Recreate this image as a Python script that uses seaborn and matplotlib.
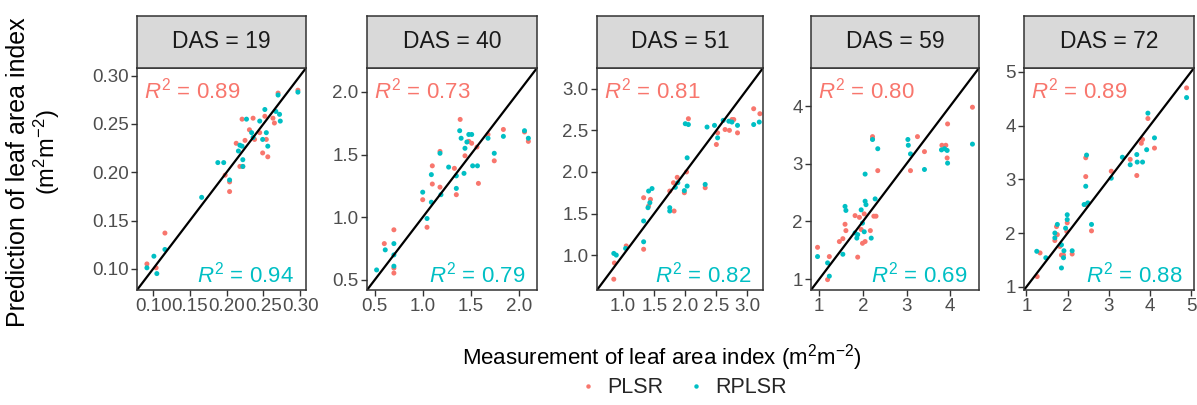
import numpy as np
import pandas as pd
import matplotlib
matplotlib.use("Agg")
import matplotlib.pyplot as plt
import seaborn as sns
from matplotlib.lines import Line2D

# ---- data ----
das = [19, 40, 51, 59, 72]
methods = ["PLSR", "RPLSR"]
r2_plsr = ["0.89", "0.73", "0.81", "0.80", "0.89"]
r2_rplsr = ["0.94", "0.79", "0.82", "0.69", "0.88"]

meas_19_plsr = [0.0915, 0.104, 0.116, 0.198, 0.204, 0.204, 0.218, 0.225, 0.221, 0.231, 0.236, 0.238,
                0.245, 0.252, 0.254, 0.249, 0.256, 0.263, 0.265, 0.270, 0.297, 0.213, 0.222]
pred_19_plsr = [0.105, 0.101, 0.137, 0.197, 0.190, 0.180, 0.206, 0.233, 0.255, 0.244, 0.256, 0.234,
                0.241, 0.258, 0.234, 0.220, 0.216, 0.256, 0.251, 0.282, 0.285, 0.230, 0.206]
meas_19_rplsr = [0.0915, 0.101, 0.105, 0.116, 0.166, 0.188, 0.196, 0.204, 0.216, 0.218, 0.221, 0.222, 0.222,
                 0.227, 0.234, 0.236, 0.245, 0.252, 0.254, 0.256, 0.249, 0.267, 0.270, 0.272, 0.273, 0.297]
pred_19_rplsr = [0.101, 0.113, 0.095, 0.120, 0.174, 0.210, 0.210, 0.192, 0.222, 0.228, 0.227, 0.213, 0.206,
                 0.255, 0.241, 0.236, 0.253, 0.265, 0.241, 0.227, 0.234, 0.263, 0.280, 0.260, 0.253, 0.283]

meas_40_plsr = [0.60, 0.70, 0.70, 0.70, 1.00, 1.045, 1.10, 1.10, 1.18, 1.18, 1.33, 1.35, 1.39, 1.44,
                1.48, 1.51, 1.565, 1.58, 1.68, 1.745, 1.84, 2.06, 2.10]
pred_40_plsr = [0.79, 0.90, 0.595, 0.555, 1.14, 0.92, 1.41, 1.265, 1.24, 1.525, 1.39, 1.18, 1.78, 1.49,
                1.605, 1.59, 1.56, 1.27, 1.66, 1.45, 1.70, 1.68, 1.605]
meas_40_rplsr = [0.52, 0.61, 0.70, 0.70, 0.70, 1.00, 1.045, 1.09, 1.09, 1.18, 1.19, 1.27, 1.35, 1.35,
                 1.385, 1.40, 1.44, 1.46, 1.48, 1.51, 1.43, 1.52, 1.57, 1.68, 1.745, 1.84, 2.06, 2.10]
pred_40_rplsr = [0.58, 0.74, 0.79, 0.70, 0.61, 1.20, 0.99, 1.34, 1.12, 1.51, 1.18, 1.40, 1.23, 1.33,
                 1.69, 1.63, 1.55, 1.60, 1.66, 1.66, 1.35, 1.41, 1.41, 1.63, 1.51, 1.645, 1.69, 1.63]

meas_51_plsr = [0.85, 0.86, 1.05, 1.33, 1.33, 1.44, 1.41, 1.75, 1.82, 1.87, 1.985, 2.02, 2.05, 2.32,
                2.50, 2.52, 2.64, 2.71, 2.75, 2.78, 2.84, 3.10, 3.20, 1.81]
pred_51_plsr = [0.71, 0.905, 1.11, 1.07, 1.69, 1.67, 1.59, 1.77, 1.53, 1.935, 1.75, 2.00, 2.64, 1.81,
                2.33, 2.47, 2.51, 2.50, 2.63, 2.63, 2.47, 2.76, 2.70, 1.87]
meas_51_rplsr = [0.85, 0.89, 1.04, 1.33, 1.33, 1.40, 1.43, 1.41, 1.465, 1.75, 1.75, 1.84, 1.88, 1.985,
                 2.03, 2.03, 2.00, 2.05, 2.32, 2.35, 2.47, 2.52, 2.61, 2.70, 2.75, 2.84, 3.10, 3.19]
pred_51_rplsr = [1.02, 1.00, 1.08, 1.16, 1.41, 1.57, 1.63, 1.77, 1.80, 1.57, 1.53, 1.815, 1.87, 1.775,
                 1.83, 2.17, 2.58, 2.57, 1.85, 2.54, 2.56, 2.41, 2.62, 2.61, 2.60, 2.56, 2.57, 2.60]

meas_59_plsr = [0.96, 1.19, 1.23, 1.46, 1.54, 1.59, 1.61, 1.82, 1.88, 1.92, 1.96, 1.99, 2.03, 2.05,
                2.17, 2.22, 2.22, 2.25, 2.30, 2.34, 3.09, 3.25, 3.41, 3.81, 3.90, 3.93, 3.94, 4.51]
pred_59_plsr = [1.55, 0.99, 1.39, 1.65, 1.70, 1.95, 1.84, 2.10, 1.38, 2.07, 1.86, 1.62, 2.13, 1.65,
                1.84, 3.47, 3.43, 2.09, 2.09, 2.88, 2.88, 3.47, 3.21, 3.32, 3.32, 3.10, 3.69, 3.98]
meas_59_rplsr = [0.96, 1.19, 1.23, 1.54, 1.59, 1.61, 1.82, 1.86, 1.88, 1.96, 1.99, 2.03, 2.05, 2.05,
                 2.07, 2.19, 2.22, 2.28, 2.34, 3.03, 3.04, 3.09, 3.41, 3.80, 3.87, 3.93, 3.94, 4.51]
pred_59_rplsr = [1.39, 1.28, 1.05, 1.43, 2.26, 2.19, 1.80, 1.71, 1.77, 2.20, 1.97, 1.82, 2.82, 2.35,
                 2.29, 1.71, 3.42, 2.39, 3.26, 3.42, 3.32, 3.17, 2.90, 3.24, 3.26, 3.23, 3.01, 3.34]

meas_72_plsr = [1.26, 1.33, 1.69, 1.73, 1.75, 1.81, 1.85, 1.90, 1.98, 1.99, 2.11, 2.44, 2.44, 2.44,
                2.58, 3.06, 3.52, 3.68, 3.79, 3.82, 3.95, 4.11, 4.89]
pred_72_plsr = [1.19, 1.63, 1.86, 2.12, 1.97, 1.75, 1.59, 1.59, 2.03, 2.19, 1.61, 3.40, 3.05, 2.53,
                2.04, 3.15, 3.37, 3.07, 3.67, 3.74, 4.13, 3.58, 4.70]
meas_72_rplsr = [1.25, 1.47, 1.69, 1.69, 1.75, 1.85, 1.85, 1.90, 1.91, 1.95, 1.99, 1.99, 2.11, 2.40,
                 2.46, 2.44, 2.49, 2.58, 3.06, 3.33, 3.52, 3.68, 3.69, 3.82, 3.92, 3.95, 4.11, 4.89]
pred_72_rplsr = [1.66, 1.54, 2.00, 1.91, 2.16, 1.35, 1.78, 1.54, 1.67, 2.09, 2.34, 2.25, 1.67, 2.53,
                 3.45, 2.87, 2.56, 2.16, 3.02, 3.41, 3.27, 3.46, 3.32, 3.32, 3.55, 4.23, 3.77, 4.52]

measured = {19: [meas_19_plsr, meas_19_rplsr], 40: [meas_40_plsr, meas_40_rplsr],
            51: [meas_51_plsr, meas_51_rplsr], 59: [meas_59_plsr, meas_59_rplsr],
            72: [meas_72_plsr, meas_72_rplsr]}
predicted = {19: [pred_19_plsr, pred_19_rplsr], 40: [pred_40_plsr, pred_40_rplsr],
             51: [pred_51_plsr, pred_51_rplsr], 59: [pred_59_plsr, pred_59_rplsr],
             72: [pred_72_plsr, pred_72_rplsr]}

axis_limits = [(0.078, 0.308), (0.42, 2.19), (0.58, 3.25), (0.81, 4.66), (0.94, 5.07)]
tick_values = [[0.10, 0.15, 0.20, 0.25, 0.30], [0.5, 1.0, 1.5, 2.0], [1.0, 1.5, 2.0, 2.5, 3.0],
               [1, 2, 3, 4], [1, 2, 3, 4, 5]]
tick_labels = [["0.10", "0.15", "0.20", "0.25", "0.30"], ["0.5", "1.0", "1.5", "2.0"],
               ["1.0", "1.5", "2.0", "2.5", "3.0"], ["1", "2", "3", "4"], ["1", "2", "3", "4", "5"]]

# long table for seaborn
rows = []
for d in das:
    for m, xs, ys in zip(methods, measured[d], predicted[d]):
        for x, y in zip(xs, ys):
            rows.append({"DAS": d, "method": m, "measured": x, "predicted": y})
df = pd.DataFrame(rows)

# ---- style ----
sns.set_theme(style="white")
plt.rcParams['font.family'] = ['Liberation Sans', 'DejaVu Sans']
plt.rcParams['mathtext.fontset'] = 'custom'
plt.rcParams['mathtext.rm'] = 'Liberation Sans'
plt.rcParams['mathtext.it'] = 'Liberation Sans:italic'
palette = {"PLSR": "#F8766D", "RPLSR": "#00BFC4"}
dark = "#333333"

W, H = 1197, 405
fig = plt.figure(figsize=(W / 100, H / 100), dpi=100)

lefts = [137, 367, 597, 811, 1024]
widths = [169, 170, 166, 168, 170]
top_px, bottom_px, strip_top = 68, 290, 16

for i, d in enumerate(das):
    ax = fig.add_axes([lefts[i] / W, (H - bottom_px) / H, widths[i] / W, (bottom_px - top_px) / H])
    sub = df[df["DAS"] == d]
    sns.scatterplot(data=sub, x="measured", y="predicted", hue="method", palette=palette,
                    hue_order=methods, s=13, linewidth=0, legend=False, ax=ax)
    lo, hi = axis_limits[i]
    ax.axline((lo, lo), slope=1, color="black", lw=1.6)
    ax.set_xlim(lo, hi)
    ax.set_ylim(lo, hi)
    ax.set_xticks(tick_values[i])
    ax.set_xticklabels(tick_labels[i])
    ax.set_yticks(tick_values[i])
    ax.set_yticklabels(tick_labels[i])
    ax.set_xlabel("")
    ax.set_ylabel("")
    ax.tick_params(axis="both", length=4, width=1, color=dark, labelcolor="#4D4D4D",
                   labelsize=13.5, pad=2, direction="out", bottom=True, left=True)
    for sp in ax.spines.values():
        sp.set_color(dark)
        sp.set_linewidth(1.1)
    ax.text(0.04, 0.90, "$R^2$ = " + r2_plsr[i], transform=ax.transAxes, color=palette["PLSR"],
            fontsize=16, ha="left", va="center")
    ax.text(0.93, 0.07, "$R^2$ = " + r2_rplsr[i], transform=ax.transAxes, color=palette["RPLSR"],
            fontsize=16, ha="right", va="center")

    # facet strip
    sax = fig.add_axes([lefts[i] / W, (H - top_px) / H, widths[i] / W, (top_px - strip_top) / H])
    sax.set_facecolor("#D9D9D9")
    sax.set_xticks([])
    sax.set_yticks([])
    for sp in sax.spines.values():
        sp.set_color(dark)
        sp.set_linewidth(1.1)
    sax.text(0.5, 0.5, f"DAS = {d}", ha="center", va="center", fontsize=16.5, color="#1A1A1A")

fig.text(0.553, 0.118, "Measurement of leaf area index (m$^2$m$^{-2}$)", ha="center", va="center",
         fontsize=16, color="black")
fig.text(0.015, 0.575, "Prediction of leaf area index", rotation=90, ha="center", va="center",
         fontsize=18, color="black")
fig.text(0.039, 0.625, "(m$^2$m$^{-2}$)", rotation=90, ha="center", va="center",
         fontsize=17, color="black")

handles = [Line2D([], [], marker="o", ls="", markersize=3.2, markeredgewidth=0,
                  markerfacecolor=palette[m]) for m in methods]
fig.legend(handles, methods, loc="center", bbox_to_anchor=(0.569, 0.042), ncol=2, frameon=False,
           fontsize=15.5, handletextpad=0.3, columnspacing=0.9, handlelength=1.2)

fig.savefig("out.png", dpi=100)
